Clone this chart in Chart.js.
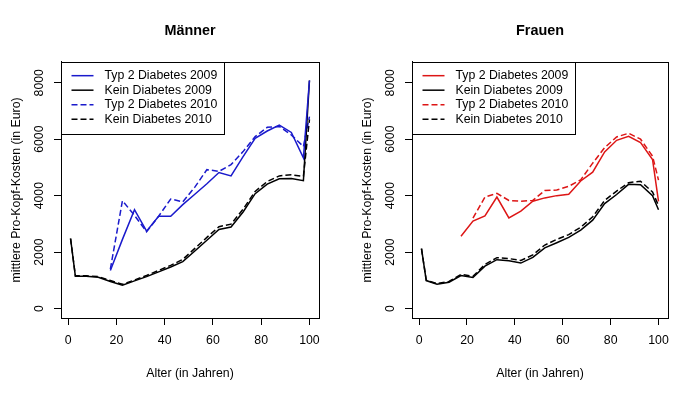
<!DOCTYPE html>
<html>
<head>
<meta charset="utf-8">
<script src="https://cdn.jsdelivr.net/npm/chart.js@4"></script>
<style>
  body { margin: 0; background: #fff; }
  #wrap { position: relative; width: 700px; height: 394px; }
  #wrap canvas { position: absolute; top: 0; }
</style>
</head>
<body>
<div id="wrap">
  <canvas id="maenner" width="350" height="394" style="left:0"></canvas>
  <canvas id="frauen" width="349" height="394" style="left:351px"></canvas>
</div>
<script>
// Altersgruppen (Klassenmitte)
const alter = [1, 3, 7.5, 12.5, 17.5, 22.5, 27.5, 32.5, 37.5, 42.5, 47.5, 52.5, 57.5, 62.5, 67.5, 72.5, 77.5, 82.5, 87.5, 92.5, 97.5, 100];
const xTicks = [0, 20, 40, 60, 80, 100];
const yTicks = [0, 2000, 4000, 6000, 8000];
const reihenNamen = ['Typ 2 Diabetes 2009', 'Kein Diabetes 2009', 'Typ 2 Diabetes 2010', 'Kein Diabetes 2010'];

// === Männer ===
const typ2M2009  = [null, null, null, null, 1350, 2450, 3500, 2740, 3270, 3270, 3680, 4050, 4420, 4820, 4700, 5380, 6030, 6290, 6500, 6240, 5340, 8080];
const keinM2009  = [2480, 1140, 1140, 1110, 960, 830, 980, 1130, 1300, 1470, 1660, 2040, 2420, 2800, 2890, 3420, 4070, 4410, 4600, 4610, 4530, 8080];
const typ2M2010  = [null, null, null, null, 1400, 3820, 3300, 2720, 3270, 3880, 3780, 4300, 4920, 4860, 5100, 5560, 6090, 6420, 6450, 6150, 5740, 6800];
const keinM2010  = [2480, 1160, 1160, 1130, 990, 860, 1010, 1170, 1350, 1530, 1740, 2130, 2520, 2900, 2990, 3520, 4150, 4500, 4700, 4740, 4680, 6700];

// === Frauen ===
const typ2F2009  = [null, null, null, null, 2560, 3100, 3280, 3950, 3210, 3450, 3800, 3920, 4000, 4050, 4520, 4830, 5550, 5960, 6100, 5880, 5280, 3800];
const keinF2009  = [2120, 990, 860, 930, 1170, 1100, 1500, 1730, 1690, 1610, 1810, 2150, 2330, 2520, 2780, 3130, 3720, 4040, 4400, 4390, 4000, 3500];
const typ2F2010  = [null, null, null, null, null, 3200, 3950, 4080, 3830, 3800, 3830, 4180, 4200, 4330, 4560, 5150, 5700, 6080, 6210, 6000, 5400, 4550];
const keinF2010  = [2120, 1000, 880, 960, 1210, 1140, 1560, 1800, 1770, 1700, 1900, 2250, 2450, 2620, 2880, 3250, 3830, 4160, 4460, 4510, 4130, 3650];

const FONT = "'Liberation Sans', Arial, Helvetica, sans-serif";
Chart.defaults.font.family = FONT;
Chart.defaults.font.size = 12.3;
Chart.defaults.color = '#000';

const BLAU = '#1a1acc';
const ROT = '#dd1515';
const SCHWARZ = '#000';

function punkte(werte) {
    return alter.map((a, i) => ({ x: a, y: werte[i] }));
}

function reihe(label, werte, farbe, gestrichelt) {
    return {
        label: label,
        data: punkte(werte),
        borderColor: farbe,
        borderWidth: 1.5,
        borderDash: gestrichelt ? [6, 3] : [],
        pointRadius: 0,
        tension: 0,
        fill: false,
        spanGaps: false
    };
}

// Rahmen um die Plotfläche (wie bty="o" in R)
const rahmen = {
    id: 'rahmen',
    afterDraw(chart) {
        const { ctx, chartArea: a } = chart;
        const l = Math.round(a.left) + 0.5, t = Math.round(a.top) + 0.5;
        const r = Math.round(a.right) + 0.5, b = Math.round(a.bottom) + 0.5;
        ctx.save();
        ctx.strokeStyle = '#000';
        ctx.lineWidth = 1;
        ctx.strokeRect(l, t, r - l, b - t);
        ctx.restore();
    }
};

// Legende oben links in der Plotfläche, mit Kasten
const legende = {
    id: 'legende',
    afterDatasetsDraw(chart) {
        const { ctx, chartArea: a } = chart;
        const l = Math.round(a.left) + 0.5, t = Math.round(a.top) + 0.5;
        ctx.save();
        ctx.fillStyle = '#fff';
        ctx.fillRect(l, t, 163, 72);
        ctx.strokeStyle = '#000';
        ctx.lineWidth = 1;
        ctx.strokeRect(l, t, 163, 72);
        ctx.font = '12.3px ' + FONT;
        ctx.textBaseline = 'middle';
        chart.data.datasets.forEach((d, i) => {
            const y = a.top + 13.7 + i * 14.5;
            ctx.beginPath();
            ctx.strokeStyle = d.borderColor;
            ctx.lineWidth = d.borderWidth;
            ctx.setLineDash(d.borderDash);
            ctx.moveTo(a.left + 10.5, y);
            ctx.lineTo(a.left + 32.5, y);
            ctx.stroke();
            ctx.setLineDash([]);
            ctx.fillStyle = '#000';
            ctx.fillText(d.label, a.left + 43.5, y);
        });
        ctx.restore();
    }
};

function diagramm(id, titel, reihen, rechts) {
    return new Chart(document.getElementById(id), {
        type: 'line',
        data: { datasets: reihen },
        options: {
            responsive: false,
            animation: false,
            events: [],
            layout: { padding: { left: 0, right: rechts, top: 0, bottom: 0 } },
            plugins: {
                legend: { display: false },
                tooltip: { enabled: false },
                title: {
                    display: true,
                    text: titel,
                    fullSize: false,
                    color: '#000',
                    font: { size: 14.4, weight: 'bold' },
                    padding: { top: 22.4, bottom: 22.3 }
                }
            },
            scales: {
                x: {
                    type: 'linear',
                    min: -2.96,
                    max: 103.96,
                    afterBuildTicks: s => { s.ticks = xTicks.map(v => ({ value: v })); },
                    afterFit: s => { s.height = 76; },
                    ticks: { padding: 8.5, maxRotation: 0, callback: v => String(v) },
                    grid: { drawOnChartArea: false, tickLength: 7, color: '#000' },
                    border: { color: '#000' },
                    title: { display: true, text: 'Alter (in Jahren)', padding: { top: 0, bottom: 13.5 } }
                },
                y: {
                    type: 'linear',
                    min: -336,
                    max: 8736,
                    afterBuildTicks: s => { s.ticks = yTicks.map(v => ({ value: v })); },
                    afterFit: s => { s.width = 61; },
                    ticks: { padding: 1.2, minRotation: 90, maxRotation: 90, crossAlign: 'center', callback: v => String(v) },
                    grid: { drawOnChartArea: false, tickLength: 7, color: '#000' },
                    border: { color: '#000' },
                    title: { display: true, text: 'mittlere Pro-Kopf-Kosten (in Euro)', padding: { top: 9.6, bottom: 0 } }
                }
            }
        },
        plugins: [rahmen, legende]
    });
}

diagramm('maenner', 'Männer', [
    reihe(reihenNamen[0], typ2M2009, BLAU, false),
    reihe(reihenNamen[1], keinM2009, SCHWARZ, false),
    reihe(reihenNamen[2], typ2M2010, BLAU, true),
    reihe(reihenNamen[3], keinM2010, SCHWARZ, true)
], 31);

diagramm('frauen', 'Frauen', [
    reihe(reihenNamen[0], typ2F2009, ROT, false),
    reihe(reihenNamen[1], keinF2009, SCHWARZ, false),
    reihe(reihenNamen[2], typ2F2010, ROT, true),
    reihe(reihenNamen[3], keinF2010, SCHWARZ, true)
], 32);
</script>
</body>
</html>
